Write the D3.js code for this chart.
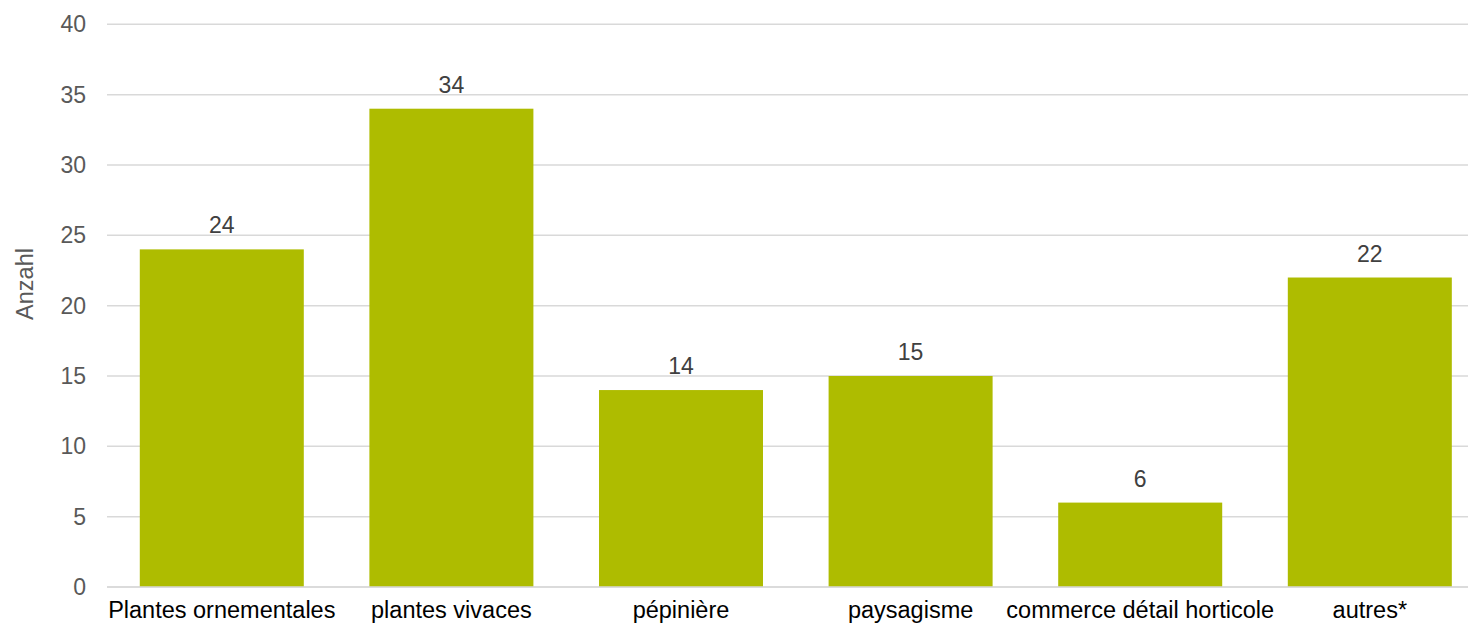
<!DOCTYPE html>
<html>
<head>
<meta charset="utf-8">
<script src="https://cdn.jsdelivr.net/npm/d3@7"></script>
<style>
  html, body { margin: 0; padding: 0; background: #fff; overflow: hidden; }
  svg { display: block; font-family: "Liberation Sans", Arial, sans-serif; }
</style>
</head>
<body>
<svg id="chart" width="1468" height="625"></svg>
<script>
const categories = ["Plantes ornementales", "plantes vivaces", "pépinière", "paysagisme", "commerce détail horticole", "autres*"];
const values = [24, 34, 14, 15, 6, 22];
const yTicks = [0, 5, 10, 15, 20, 25, 30, 35, 40];
const yTitle = "Anzahl";

const svg = d3.select("#chart");
const plotLeft = 107, plotRight = 1484.6, plotTop = 24.3, plotBottom = 587;

const x = d3.scaleBand().domain(categories).range([plotLeft, plotRight]).paddingInner(0.2857).paddingOuter(0.1428);
const y = d3.scaleLinear().domain([0, 40]).range([plotBottom, plotTop]);

// gridlines
svg.append("g").selectAll("line").data(yTicks).join("line")
  .attr("x1", plotLeft).attr("x2", plotRight)
  .attr("y1", d => y(d)).attr("y2", d => y(d))
  .attr("stroke", "#d9d9d9").attr("stroke-width", 1.5);

// y tick labels
svg.append("g").selectAll("text").data(yTicks).join("text")
  .attr("x", 86).attr("y", d => y(d)).attr("dy", "0.35em")
  .attr("text-anchor", "end").attr("fill", "#595959")
  .style("font-size", "23px").text(d => d);

// bars
svg.append("g").selectAll("rect").data(values).join("rect")
  .attr("x", (d, i) => x(categories[i]))
  .attr("width", x.bandwidth())
  .attr("y", d => y(d))
  .attr("height", d => y(0) - y(d))
  .attr("fill", "#aebc00");

// baseline
svg.append("line").attr("x1", plotLeft).attr("x2", plotRight)
  .attr("y1", y(0)).attr("y2", y(0))
  .attr("stroke", "#d9d9d9").attr("stroke-width", 1.5);

// data labels
svg.append("g").selectAll("text").data(values).join("text")
  .attr("x", (d, i) => x(categories[i]) + x.bandwidth() / 2)
  .attr("y", d => y(d) - 16)
  .attr("text-anchor", "middle").attr("fill", "#404040")
  .style("font-size", "23px").text(d => d);

// category labels
svg.append("g").selectAll("text").data(categories).join("text")
  .attr("x", d => x(d) + x.bandwidth() / 2)
  .attr("y", 618)
  .attr("text-anchor", "middle").attr("fill", "#000")
  .style("font-size", "23.5px").text(d => d);

// y axis title
svg.append("text")
  .attr("transform", "translate(33,284) rotate(-90)")
  .attr("text-anchor", "middle").attr("fill", "#595959")
  .style("font-size", "23.5px").text(yTitle);
</script>
</body>
</html>
